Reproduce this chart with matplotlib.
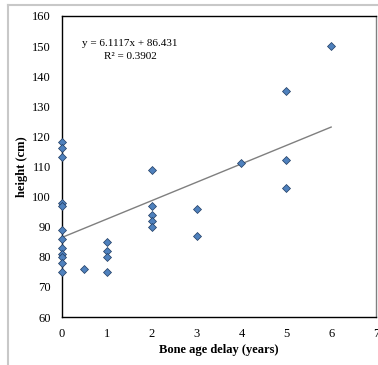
import numpy as np
import matplotlib.pyplot as plt
from matplotlib.lines import Line2D

# bone age delay (years) vs height (cm)
delay = [0, 0, 0, 0, 0, 0, 0, 0, 0, 0, 0, 0,
         0.5,
         1, 1, 1, 1,
         2, 2, 2, 2, 2,
         3, 3,
         4,
         5, 5, 5,
         6]
height = [118, 116, 113, 98, 97, 89, 86, 83, 81, 80, 78, 75,
          76,
          85, 82, 80, 75,
          109, 97, 94, 92, 90,
          96, 87,
          111,
          135, 112, 103,
          150]
slope = 6.1117
intercept = 86.431
r2 = 0.3902
xticks = [0, 1, 2, 3, 4, 5, 6, 7]
yticks = [60, 70, 80, 90, 100, 110, 120, 130, 140, 150, 160]

plt.rcParams['font.family'] = ['Liberation Serif', 'DejaVu Serif']

fig = plt.figure(figsize=(3.78, 3.65), dpi=100)
ax = fig.add_axes([62/378, 48/365, 314/378, 301/365])

# outer frame (light grey, partly visible)
fig.add_artist(Line2D([8/378, 8/378], [0, 360/365], transform=fig.transFigure,
                      color='#c8c8c8', lw=1.5))
fig.add_artist(Line2D([8/378, 1], [360/365, 360/365], transform=fig.transFigure,
                      color='#c8c8c8', lw=1.5))

ax.plot(delay, height, 'D', ms=4.3, mfc='#4f81bd', mec='#1f3a60', mew=0.5,
        zorder=3, clip_on=False)

xl = np.array([0, 6])
ax.plot(xl, slope*xl + intercept, color='#7f7f7f', lw=1.0, zorder=2)

ax.text(1.52, 148.7, f"y = {slope}x + {intercept}\nR² = {r2}", ha='center', va='center',
        multialignment='center', fontsize=8, linespacing=1.45)

ax.set_xlim(0, 7)
ax.set_ylim(60, 160)
ax.set_xticks(xticks)
ax.set_yticks(yticks)
ax.tick_params(length=0, labelsize=9, pad=8)
for s in ['left', 'bottom', 'top']:
    ax.spines[s].set_color('black')
    ax.spines[s].set_linewidth(1.0)
ax.spines['right'].set_color('#808080')
ax.spines['right'].set_linewidth(1.0)

ax.set_xlabel("Bone age delay (years)", fontsize=9, fontweight='bold', labelpad=3)
ax.set_ylabel("height (cm)", fontsize=9, fontweight='bold', labelpad=3)

fig.savefig("out.png", dpi=100)
